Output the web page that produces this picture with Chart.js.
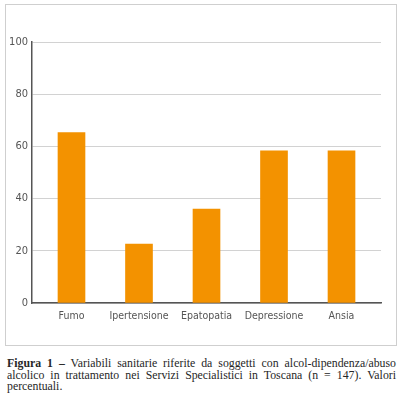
<!DOCTYPE html>
<html>
<head>
<meta charset="utf-8">
<script src="https://cdn.jsdelivr.net/npm/chart.js@4"></script>
<style>
  html, body { margin: 0; padding: 0; background: #fff; }
  body { width: 400px; height: 400px; position: relative; overflow: hidden; }
  #frame { position: absolute; left: 5px; top: 4px; width: 390px; height: 340px; border: 1.5px solid #cfcfcf; }
  #wrap { position: absolute; left: 0; top: 0; width: 400px; height: 350px; }
  #caption { position: absolute; left: 7px; top: 358px; width: 389px; font-family: "Liberation Serif", "DejaVu Serif", serif; font-size: 11.8px; line-height: 11.6px; color: #262626; }
  #caption div.j { text-align: justify; text-align-last: justify; white-space: nowrap; }
  #caption b { font-weight: bold; }
</style>
</head>
<body>
<div id="frame"></div>
<div id="wrap"><canvas id="c"></canvas></div>
<div id="caption">
  <div class="j"><b>Figura 1 –</b> Variabili sanitarie riferite da soggetti con alcol-dipendenza/abuso</div>
  <div class="j">alcolico in trattamento nei Servizi Specialistici in Toscana (n = 147). Valori</div>
  <div>percentuali.</div>
</div>
<script>
const categories = ["Fumo", "Ipertensione", "Epatopatia", "Depressione", "Ansia"];
const values = [65.3, 22.6, 36.0, 58.3, 58.3];
const yTicks = [0, 20, 40, 60, 80, 100];

const font = { family: "'Liberation Sans Narrow', 'DejaVu Sans Condensed', 'Liberation Sans', sans-serif", size: 10.5 };

new Chart(document.getElementById('c'), {
  type: 'bar',
  data: {
    datasets: [{
      data: categories.map((c, i) => ({ x: i, y: values[i] })),
      backgroundColor: '#F39200',
      borderWidth: 0,
      barThickness: 27
    }]
  },
  options: {
    responsive: true,
    maintainAspectRatio: false,
    animation: false,
    layout: { padding: { left: 0, right: 19, top: 42, bottom: 0 } },
    plugins: { legend: { display: false }, tooltip: { enabled: false } },
    scales: {
      x: {
        type: 'linear',
        offset: false,
        min: -0.585,
        max: 4.585,
        grid: { display: false, drawTicks: false, offset: false },
        border: { display: true, color: '#555', width: 1.5 },
        afterBuildTicks: s => { s.ticks = categories.map((c, i) => ({ value: i })); },
        ticks: {
          autoSkip: false,
          maxRotation: 0,
          padding: 7,
          color: '#555',
          font: font,
          callback: v => categories[v] !== undefined ? categories[v] : ''
        },
        afterFit: s => { s.height = 47; }
      },
      y: {
        min: 0,
        max: 100,
        afterBuildTicks: s => { s.ticks = yTicks.map(v => ({ value: v })); },
        grid: { color: '#d2d2d2', lineWidth: 1, drawTicks: false },
        border: { display: true, color: '#555', width: 1.5 },
        ticks: { padding: 4, color: '#555', font: { family: font.family, size: 11 } },
        afterFit: s => { s.width = 32; }
      }
    }
  }
});
</script>
</body>
</html>
